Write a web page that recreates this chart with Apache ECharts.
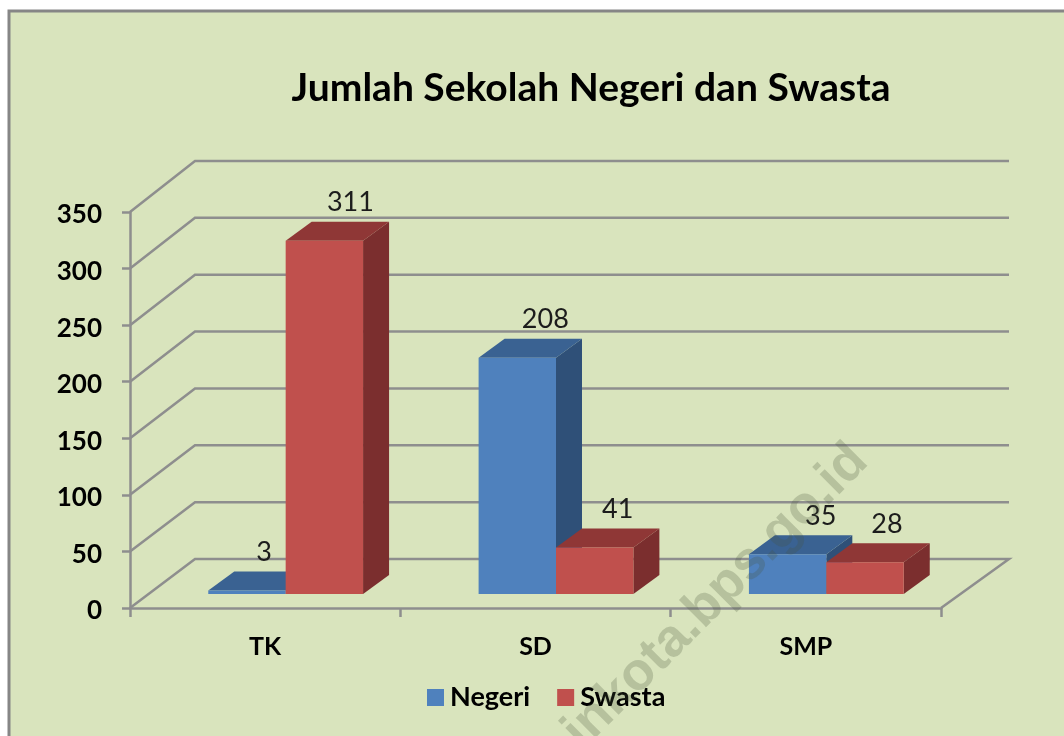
<!DOCTYPE html>
<html>
<head>
    <meta charset="utf-8"/>
    <title>Jumlah Sekolah Negeri dan Swasta</title>
    <style>
        html, body { margin: 0; padding: 0; background: #fff; }
    </style>
</head>
<body>

<div id="main" style="width: 1064px;height:736px;"></div>

<script src="https://cdn.jsdelivr.net/npm/echarts@6/dist/echarts.min.js"></script>
<script>
    var categories = ['TK', 'SD', 'SMP'];
    var negeri = [3, 208, 35];
    var swasta = [311, 41, 28];
    var yTicks = [0, 50, 100, 150, 200, 250, 300, 350];

    var fontName = 'Lato, "Open Sans", sans-serif';

    // depth of the back wall and of the bars, in pixels
    var wallDx = 65, wallDy = -49, wallRightDx = 68;
    var floorDx = 20.5, floorDy = -14;
    var barDx = 26, barDy = -19;
    var barWidth = 77.4;

    // the original chart moves some value labels off the bar centre
    var negeriLabelDx = [-9, 2, 7];
    var swastaLabelDx = [0, -3, -4];

    var blue = {front: '#4f81bd', top: '#3a6292', side: '#2f5078'};
    var red = {front: '#c0504d', top: '#8f3736', side: '#7b2e2e'};

    function poly(points, color) {
        return {type: 'polygon', shape: {points: points}, style: {fill: color}};
    }

    // one 3d bar, shifted from the category centre by shift pixels
    function barRenderer(colors, shift, labelDx) {
        return function (params, api) {
            var top = api.coord([api.value(0), api.value(1)]);
            var base = api.coord([api.value(0), 0]);
            var x0 = top[0] + floorDx + shift;
            var x1 = x0 + barWidth;
            var y1 = base[1] + floorDy;
            var y0 = y1 - (base[1] - top[1]) * 1.004;
            return {
                type: 'group',
                children: [
                    poly([[x1, y0], [x1 + barDx, y0 + barDy], [x1 + barDx, y1 + barDy], [x1, y1]], colors.side),
                    poly([[x0, y0], [x0 + barDx, y0 + barDy], [x1 + barDx, y0 + barDy], [x1, y0]], colors.top),
                    poly([[x0, y0], [x1, y0], [x1, y1], [x0, y1]], colors.front),
                    {
                        type: 'text',
                        style: {
                            text: String(api.value(1)),
                            x: (x0 + x1) / 2 + barDx + labelDx[params.dataIndex],
                            y: y0 + barDy - 19,
                            align: 'center',
                            verticalAlign: 'middle',
                            fill: '#1c1c1c',
                            font: '27px ' + fontName
                        }
                    }
                ]
            };
        };
    }

    function wallRenderer(params, api) {
        var v = api.value(1);
        var p = api.coord([0, v]);
        var x0 = params.coordSys.x;
        var x1 = x0 + params.coordSys.width;
        var dy = wallDy - 2 * v / 350;
        var points = [[x0, p[1]], [x0 + wallDx, p[1] + dy], [x1 + wallRightDx, p[1] + dy]];
        if (v === 0) {
            points.push([x1, p[1]]);
        }
        return {
            type: 'polyline',
            shape: {points: points},
            style: {stroke: '#8e8e8e', lineWidth: 2.5, fill: 'none'}
        };
    }

    var myChart = echarts.init(document.getElementById('main'));

    var option = {
        animation: false,
        backgroundColor: '#ffffff',
        title: {
            text: 'Jumlah Sekolah Negeri dan Swasta',
            left: 586,
            top: 64,
            textAlign: 'center',
            textStyle: {color: '#000', fontFamily: fontName, fontWeight: 'bold', fontSize: 39}
        },
        legend: {
            data: ['Negeri', 'Swasta'],
            left: 422,
            top: 679,
            icon: 'rect',
            itemWidth: 17,
            itemHeight: 17,
            itemGap: 27,
            textStyle: {color: '#000', fontFamily: fontName, fontWeight: 'bold', fontSize: 27, padding: [0, 0, 0, 1]}
        },
        grid: {left: 130, right: 123, top: 212, bottom: 128},
        xAxis: {
            type: 'category',
            data: categories,
            axisLine: {lineStyle: {color: '#8e8e8e', width: 2.5}},
            axisTick: {show: true, alignWithLabel: false, length: 9, lineStyle: {color: '#8e8e8e', width: 2.5}},
            axisLabel: {color: '#000', fontFamily: fontName, fontWeight: 'bold', fontSize: 25, margin: 26}
        },
        yAxis: {
            type: 'value',
            min: 0,
            max: 350,
            interval: 50,
            splitLine: {show: false},
            axisLine: {show: true, lineStyle: {color: '#8e8e8e', width: 2.5}},
            axisTick: {show: true, length: 8, lineStyle: {color: '#8e8e8e', width: 2.5}},
            axisLabel: {
                margin: 28,
                formatter: '{a|{value}}',
                rich: {
                    a: {color: '#000', fontFamily: fontName, fontWeight: 'bold', fontSize: 26, padding: [6, 0, 0, 0]}
                }
            }
        },
        series: [
            {
                type: 'custom',
                name: 'walls',
                renderItem: wallRenderer,
                clip: false,
                silent: true,
                encode: {x: 0, y: 1},
                data: yTicks.map(function (v) { return [0, v]; })
            },
            {
                type: 'custom',
                name: 'Negeri',
                itemStyle: {color: blue.front},
                renderItem: barRenderer(blue, -barWidth, negeriLabelDx),
                clip: false,
                encode: {x: 0, y: 1},
                data: negeri.map(function (v, i) { return [i, v]; })
            },
            {
                type: 'custom',
                name: 'Swasta',
                itemStyle: {color: red.front},
                renderItem: barRenderer(red, 0, swastaLabelDx),
                clip: false,
                encode: {x: 0, y: 1},
                data: swasta.map(function (v, i) { return [i, v]; })
            }
        ],
        graphic: [
            {
                type: 'rect',
                z: -10,
                shape: {x: 9, y: 11, width: 1200, height: 900},
                style: {fill: '#d9e4bd', stroke: '#868686', lineWidth: 3}
            },
            {
                type: 'text',
                z: 100,
                x: 591,
                y: 759,
                rotation: 0.785,
                style: {
                    text: 'inkota.bps.go.id',
                    fill: 'rgba(70,85,60,0.24)',
                    font: 'bold 53px "Liberation Sans", sans-serif',
                    align: 'left',
                    verticalAlign: 'bottom'
                }
            }
        ]
    };

    myChart.setOption(option);
</script>
</body>
</html>
